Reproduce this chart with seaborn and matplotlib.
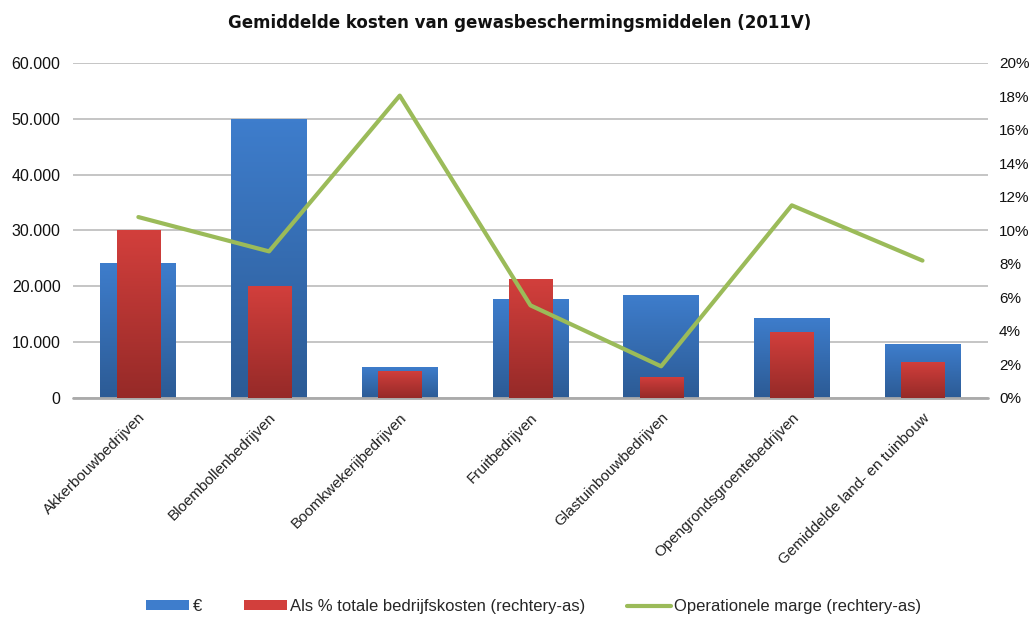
import numpy as np
import pandas as pd
import matplotlib
matplotlib.use("Agg")
import matplotlib.pyplot as plt
import seaborn as sns
from matplotlib.ticker import FuncFormatter, MultipleLocator
from matplotlib.patches import Patch
from matplotlib.lines import Line2D
from matplotlib.colors import LinearSegmentedColormap

categories = ["Akkerbouwbedrijven", "Bloembollenbedrijven", "Boomkwekerijbedrijven",
              "Fruitbedrijven", "Glastuinbouwbedrijven", "Opengrondsgroentebedrijven",
              "Gemiddelde land- en tuinbouw"]
kosten_eur = [24200, 49900, 5600, 17800, 18500, 14400, 9600]
pct_bedrijfskosten = [10.0, 6.7, 1.63, 7.1, 1.27, 3.96, 2.17]
operationele_marge = [10.8, 8.75, 18.05, 5.53, 1.89, 11.5, 8.2]

title = "Gemiddelde kosten van gewasbeschermingsmiddelen (2011V)"
legend_labels = ["€", "Als % totale bedrijfskosten (rechtery-as)", "Operationele marge (rechtery-as)"]

sns.set_theme(style="white")
plt.rcParams["font.family"] = ["Liberation Sans", "DejaVu Sans"]

df = pd.DataFrame({"cat": categories, "eur": kosten_eur,
                   "pct": pct_bedrijfskosten, "marge": operationele_marge})

fig = plt.figure(figsize=(10.36, 6.17), dpi=100)
ax = fig.add_axes([0.0705, 0.355, 0.883, 0.543])
ax2 = ax.twinx()

blue_top, blue_bot = "#3E7DCC", "#2C5B95"
red_top, red_bot = "#D23F3C", "#962A28"
green = "#9BBB59"

sns.barplot(data=df, x="cat", y="eur", ax=ax, color=blue_top, width=0.58,
            saturation=1, edgecolor="none", zorder=2)
sns.barplot(data=df, x="cat", y="pct", ax=ax2, color=red_top, width=0.33,
            saturation=1, edgecolor="none", zorder=2)
sns.lineplot(x=np.arange(len(categories)), y=df["marge"], ax=ax2, color=green,
             linewidth=3, zorder=4)


def gradient_fill(axis, c_top, c_bot):
    cmap = LinearSegmentedColormap.from_list("g", [c_bot, c_top])
    grad = np.linspace(1, 0, 64).reshape(-1, 1)
    for p in list(axis.patches):
        x0, y0 = p.get_x(), p.get_y()
        w, h = p.get_width(), p.get_height()
        if h <= 0:
            continue
        im = axis.imshow(grad, extent=[x0, x0 + w, y0, y0 + h], cmap=cmap,
                         aspect="auto", zorder=p.get_zorder() + 0.1,
                         origin="upper", interpolation="bilinear")
        im.set_clip_path(p)


gradient_fill(ax, blue_top, blue_bot)
gradient_fill(ax2, red_top, red_bot)
ax.set_ylim(0, 60000)
ax2.set_ylim(0, 20)
ax.set_xlim(-0.5, len(categories) - 0.5)
ax2.set_xlim(-0.5, len(categories) - 0.5)

# grid and spines
ax.yaxis.set_major_locator(MultipleLocator(10000))
ax.yaxis.grid(True, color="#B5B5B5", linewidth=1.1, zorder=0)
ax.set_axisbelow(True)
for a in (ax, ax2):
    for s in ["top", "right", "left", "bottom"]:
        a.spines[s].set_visible(False)
ax.axhline(0, color="#AAAAAA", linewidth=2, zorder=5, clip_on=False)

ax.yaxis.set_major_formatter(FuncFormatter(lambda v, p: f"{int(v):,}".replace(",", ".")))
ax2.yaxis.set_major_locator(MultipleLocator(2))
ax2.yaxis.set_major_formatter(FuncFormatter(lambda v, p: f"{int(round(v))}%"))

ax.tick_params(axis="y", labelsize=11.5, length=0, pad=9, colors="#111111")
ax2.tick_params(axis="y", labelsize=11, length=0, pad=8, colors="#111111")
ax.tick_params(axis="x", length=0, pad=9, labelsize=11, colors="#222222")
ax.set_xticks(range(len(categories)))
ax.set_xticklabels(categories, rotation=45, ha="right", rotation_mode="anchor")
ax.set_xlabel("")
ax.set_ylabel("")
ax2.set_ylabel("")

fig.text(0.502, 0.962, title, ha="center", va="center", fontsize=12,
         fontweight="bold", color="#111111", family=["DejaVu Sans"])

handles = [Patch(facecolor=blue_top, edgecolor="none"),
           Patch(facecolor=red_top, edgecolor="none"),
           Line2D([0], [0], color=green, linewidth=3)]
fig.legend(handles, legend_labels, loc="center", bbox_to_anchor=(0.515, 0.017),
           ncol=3, frameon=False, fontsize=12, handlelength=2.6, handleheight=0.55,
           columnspacing=2.5, handletextpad=0.2)

fig.savefig("out.png", dpi=100)
